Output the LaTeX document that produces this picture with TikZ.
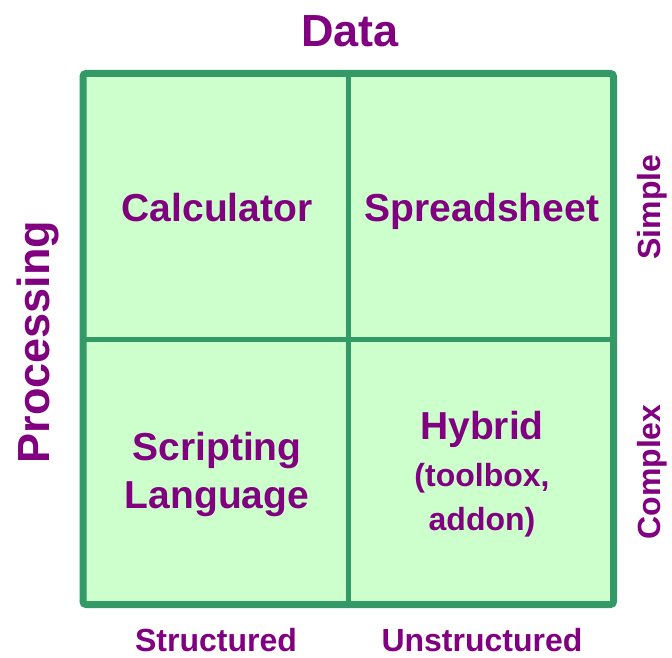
\documentclass[tikz,border=0pt]{standalone}
\usepackage{fontspec}
\setmainfont{Liberation Sans}
\usetikzlibrary{positioning}
\definecolor{cellgreen}{HTML}{CCFFCC}
\definecolor{linegreen}{HTML}{339966}
\definecolor{labelpurple}{HTML}{800080}
\tikzstyle{grid} = [
    rectangle,
    rounded corners=3pt,
    minimum width=530.5pt,
    minimum height=531pt,
    draw=linegreen,
    fill=cellgreen,
    line width=7pt
]
\tikzstyle{divider} = [draw=linegreen, line width=5pt]
\tikzstyle{cell} = [
    text=labelpurple,
    font=\bfseries\fontsize{39}{48}\selectfont,
    align=center,
    text depth=0pt,
    inner sep=0pt
]
\tikzstyle{axis} = [
    text=labelpurple,
    font=\bfseries\fontsize{45}{54}\selectfont,
    inner sep=0pt
]
\tikzstyle{tick} = [
    text=labelpurple,
    font=\bfseries\fontsize{32}{38}\selectfont,
    inner sep=0pt
]

\begin{document}
\begin{tikzpicture}[x=1pt, y=-1pt]

\useasboundingbox (0,0) rectangle (672,658);

\node (grid) [grid] at (348.25,339) {};

\draw [divider] (grid.north) -- (grid.south);
\draw [divider] (grid.west) -- (grid.east);

\node (calc) [cell] at (217,207) {Calculator};
\node (sheet) [cell] at (482,207) {Spreadsheet};
\node (script) [cell] at (217,470) {Scripting\\Language};
\node (hybrid) [cell] at (482,471)
{Hybrid\\[-1pt]{\fontsize{32}{42}\selectfont (toolbox,}\\[-4pt]{\fontsize{32}{42}\selectfont addon)}};

\node (data) [axis] at (350,31) {Data};
\node (proc) [axis, rotate=90] at (38,342) {Processing};

\node (simple) [tick, rotate=90] at (652,207) {Simple};
\node (complex) [tick, rotate=90] at (652,472) {Complex};
\node (struct) [tick] at (216,640) {Structured};
\node (unstruct) [tick] at (482,640) {Unstructured};

\end{tikzpicture}
\end{document}
